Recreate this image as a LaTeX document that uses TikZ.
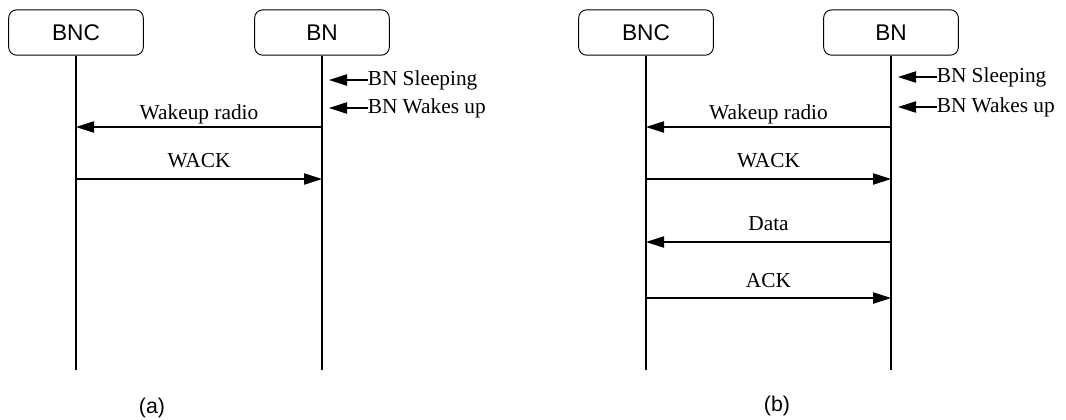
\documentclass[tikz,border=0pt]{standalone}
\usepackage{fontspec}
\setmainfont{Liberation Serif}
\setsansfont{Liberation Sans}
\usetikzlibrary{arrows.meta,positioning,calc}

\begin{document}
\begin{tikzpicture}[
    x=0.75pt, y=-0.75pt,
    party/.style={rectangle, rounded corners=6pt, draw, line width=0.7pt, minimum width=101pt, minimum height=34pt, font=\sffamily\fontsize{17}{20}\selectfont},
    life/.style={line width=0.8pt},
    msg/.style={-{Triangle[length=13.5pt,width=8.5pt]}, line width=0.8pt},
    lbl/.style={font=\fontsize{16}{19}\selectfont, inner sep=0pt},
    subcap/.style={font=\sffamily\fontsize{16}{19}\selectfont}
]
    \useasboundingbox (0,0) rectangle (1066,419);
    \foreach \p/\xa/\xb in {a/76/322, b/646/891} {
        \node[party] (bnc\p) at (\xa,32.5) {BNC};
        \node[party] (bn\p) at (\xb,32.5) {BN};
        \coordinate (endbnc\p) at (\xa,370);
        \coordinate (endbn\p) at (\xb,370);
        \draw[life] (bnc\p) -- (endbnc\p);
        \draw[life] (bn\p) -- (endbn\p);
    }
    \foreach \p/\y/\txt in {a/80/BN Sleeping, a/108/BN Wakes up, b/77/BN Sleeping, b/107/BN Wakes up} {
        \node[lbl, anchor=west] (note\p\y) at ($(bn\p |- 0,\y)+(45.5,0)$) {\txt};
        \draw[msg] (note\p\y.west) -- ($(bn\p |- note\p\y.west)+(7,0)$);
    }
    \foreach \p/\y/\off/\txt in {a/127/8/Wakeup radio, b/127/8/Wakeup radio, b/242/12/Data} {
        \draw[msg] (bn\p |- 0,\y) -- (bnc\p |- 0,\y)
            node[lbl, midway, anchor=base, yshift=\off*0.75pt] (msg\p\y) {\txt};
    }
    \foreach \p/\y/\off/\txt in {a/179/12/WACK, b/179/12/WACK, b/298/11/ACK} {
        \draw[msg] (bnc\p |- 0,\y) -- (bn\p |- 0,\y)
            node[lbl, midway, anchor=base, yshift=\off*0.75pt] (msg\p\y) {\txt};
    }
    \node[subcap] (capa) at (152,408) {(a)};
    \node[subcap] (capb) at (777,406) {(b)};
\end{tikzpicture}
\end{document}
